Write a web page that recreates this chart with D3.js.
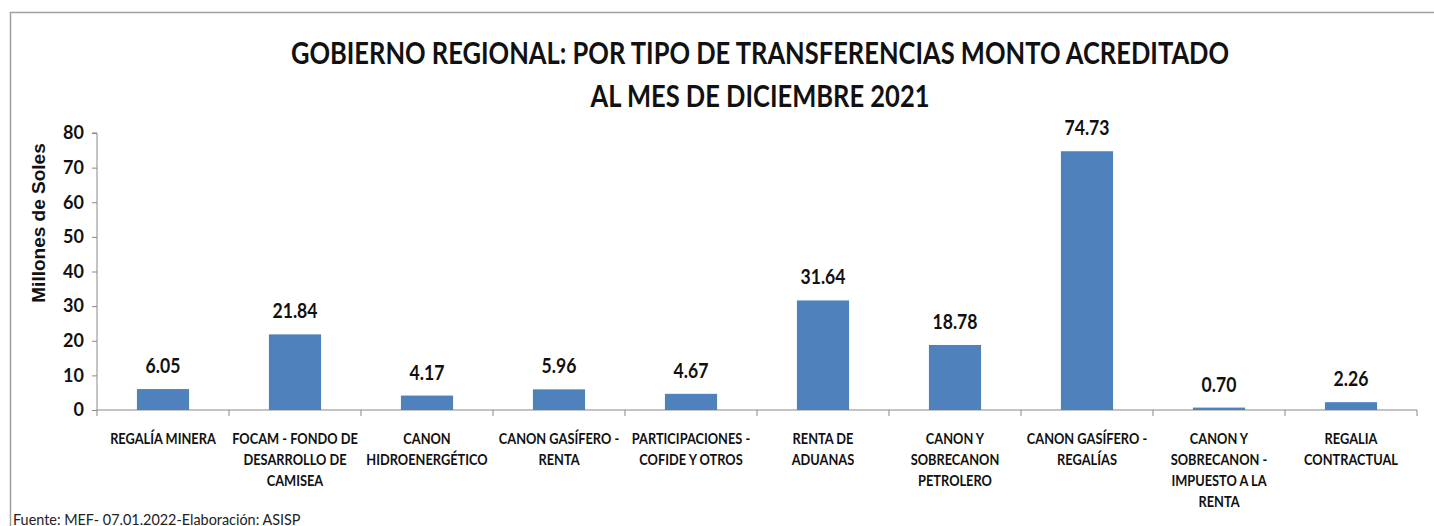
<!DOCTYPE html>
<html><head><meta charset="utf-8">
<script src="https://cdn.jsdelivr.net/npm/d3@7"></script>
<style>
html,body{margin:0;padding:0;background:#fff;}
svg{display:block;}
</style></head>
<body>
<svg id="chart" width="1434" height="526"></svg>
<script>
const categories = [
  ["REGALÍA MINERA"],
  ["FOCAM - FONDO DE","DESARROLLO DE","CAMISEA"],
  ["CANON","HIDROENERGÉTICO"],
  ["CANON GASÍFERO -","RENTA"],
  ["PARTICIPACIONES -","COFIDE Y OTROS"],
  ["RENTA DE","ADUANAS"],
  ["CANON Y","SOBRECANON","PETROLERO"],
  ["CANON GASÍFERO -","REGALÍAS"],
  ["CANON Y","SOBRECANON -","IMPUESTO A LA","RENTA"],
  ["REGALIA","CONTRACTUAL"]
];
const values = [6.05, 21.84, 4.17, 5.96, 4.67, 31.64, 18.78, 74.73, 0.70, 2.26];
const yTicks = [0,10,20,30,40,50,60,70,80];
const titleLines = ["GOBIERNO REGIONAL: POR TIPO DE TRANSFERENCIAS MONTO ACREDITADO","AL MES DE DICIEMBRE 2021"];
const yLabel = "Millones de Soles";
const footer = "Fuente: MEF- 07.01.2022-Elaboración: ASISP";

(function(){
const FONT = "Lato,'Open Sans',sans-serif";
const svg = d3.select("#chart");

function condense(sel, f){
  sel.each(function(){
    const len = this.getComputedTextLength();
    d3.select(this).attr("textLength", len*f).attr("lengthAdjust","spacingAndGlyphs");
  });
}

svg.append("path").attr("d","M10.5,526 V12.5 H1434").attr("fill","none").attr("stroke","#a0a0a0").attr("stroke-width",1.5);

const L = 97, R = 1417, T = 133, B = 410;
const keys = categories.map((c,i)=>i);
const x = d3.scaleBand().domain(keys).range([L,R]).padding(0);
const y = d3.scaleLinear().domain([0,80]).range([B,T]);
const barW = x.bandwidth()*0.395;

const title = svg.append("g").selectAll("text").data(titleLines).join("text")
  .attr("x",760).attr("y",(d,i)=>64+i*43)
  .attr("text-anchor","middle")
  .style("font-family",FONT).style("font-weight","bold").style("font-size","30px").style("fill","#111")
  .text(d=>d);
condense(title, 0.85);

const yAxis = svg.append("g").attr("transform",`translate(${L},0)`)
  .call(d3.axisLeft(y).tickValues(yTicks).tickSize(5).tickPadding(8).tickFormat(d3.format("d")));
yAxis.select(".domain").attr("stroke","#888").attr("d",`M-5,${T}H0V${B}`);
yAxis.selectAll(".tick line").attr("stroke","#888");
yAxis.selectAll(".tick text").style("font-family",FONT).style("font-weight","bold").style("font-size","18px").style("fill","#111");

const xAxis = svg.append("g").attr("transform",`translate(0,${B})`);
xAxis.append("line").attr("x1",L).attr("x2",R).attr("stroke","#888");
xAxis.selectAll("line.t").data(keys.concat([keys.length])).join("line").attr("class","t")
  .attr("x1",d=> d<keys.length? x(d) : R).attr("x2",d=> d<keys.length? x(d) : R)
  .attr("y1",0).attr("y2",6).attr("stroke","#888");

svg.append("g").selectAll("rect").data(values).join("rect")
  .attr("x",(d,i)=>x(i)+x.bandwidth()/2-barW/2)
  .attr("width",barW)
  .attr("y",d=>y(d)).attr("height",d=>y(0)-y(d))
  .attr("fill","#4F81BD");

const vl = svg.append("g").selectAll("text").data(values).join("text")
  .attr("x",(d,i)=>x(i)+x.bandwidth()/2)
  .attr("y",d=>y(d)-16)
  .attr("text-anchor","middle")
  .style("font-family",FONT).style("font-weight","bold").style("font-size","20px").style("fill","#111")
  .text(d=>d.toFixed(2));
condense(vl, 0.88);

const catLines = [];
categories.forEach((lines,i)=>lines.forEach((l,j)=>catLines.push({i,j,l})));
const cl = svg.append("g").selectAll("text").data(catLines).join("text")
  .attr("text-anchor","middle")
  .attr("x",d=>x(d.i)+x.bandwidth()/2).attr("y",d=>B+34+d.j*21)
  .style("font-family",FONT).style("font-weight","bold").style("font-size","16px").style("fill","#111")
  .text(d=>d.l);
condense(cl, 0.8);

svg.append("text").attr("transform",`translate(45,${223}) rotate(-90)`)
  .attr("text-anchor","middle")
  .style("font-family","'Liberation Sans',Arial,sans-serif").style("font-weight","bold").style("font-size","19px").style("fill","#111")
  .text(yLabel);

const ft = svg.append("text").attr("x",13).attr("y",525)
  .style("font-family",FONT).style("font-size","16px").style("fill","#222")
  .text(footer);
condense(ft, 0.9);
})();
</script>
</body></html>
